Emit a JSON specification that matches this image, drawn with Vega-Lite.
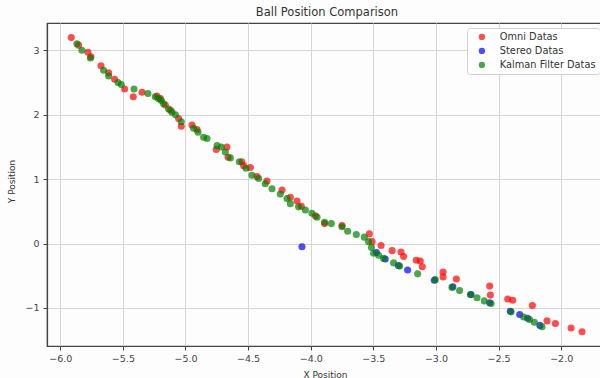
{
  "$schema": "https://vega.github.io/schema/vega-lite/v6.json",
  "width": 560,
  "height": 323,
  "autosize": "none",
  "padding": {"left": 47, "top": 23, "right": 0, "bottom": 32},
  "background": "#fdfdfd",
  "title": {"text": "Ball Position Comparison", "fontSize": 11.5, "fontWeight": "normal", "font": "DejaVu Sans", "color": "#333", "offset": 5},
  "config": {
    "view": {"stroke": "#444", "strokeWidth": 1.2},
    "axis": {"labelFont": "DejaVu Sans", "titleFont": "DejaVu Sans", "labelFontSize": 9.5, "titleFontSize": 9, "titleFontWeight": "normal", "labelColor": "#444", "titleColor": "#333", "gridColor": "#d6d6d6", "gridWidth": 1, "domainColor": "#444", "domainWidth": 1.2, "tickColor": "#444", "tickSize": 4},
    "legend": {"labelFont": "DejaVu Sans", "labelFontSize": 9.8, "labelColor": "#333"}
  },
  "data": {"values": [
    {"series": "Omni Datas", "x": -5.912, "y": 3.20},
    {"series": "Omni Datas", "x": -5.854, "y": 3.08},
    {"series": "Omni Datas", "x": -5.779, "y": 2.97},
    {"series": "Omni Datas", "x": -5.755, "y": 2.90},
    {"series": "Omni Datas", "x": -5.675, "y": 2.76},
    {"series": "Omni Datas", "x": -5.614, "y": 2.65},
    {"series": "Omni Datas", "x": -5.566, "y": 2.55},
    {"series": "Omni Datas", "x": -5.486, "y": 2.40},
    {"series": "Omni Datas", "x": -5.417, "y": 2.28},
    {"series": "Omni Datas", "x": -5.347, "y": 2.35},
    {"series": "Omni Datas", "x": -5.228, "y": 2.29},
    {"series": "Omni Datas", "x": -5.200, "y": 2.25},
    {"series": "Omni Datas", "x": -5.161, "y": 2.15},
    {"series": "Omni Datas", "x": -5.120, "y": 2.07},
    {"series": "Omni Datas", "x": -5.055, "y": 1.94},
    {"series": "Omni Datas", "x": -5.034, "y": 1.82},
    {"series": "Omni Datas", "x": -4.948, "y": 1.84},
    {"series": "Omni Datas", "x": -4.908, "y": 1.77},
    {"series": "Omni Datas", "x": -4.754, "y": 1.46},
    {"series": "Omni Datas", "x": -4.669, "y": 1.50},
    {"series": "Omni Datas", "x": -4.660, "y": 1.34},
    {"series": "Omni Datas", "x": -4.550, "y": 1.27},
    {"series": "Omni Datas", "x": -4.536, "y": 1.21},
    {"series": "Omni Datas", "x": -4.482, "y": 1.18},
    {"series": "Omni Datas", "x": -4.429, "y": 1.04},
    {"series": "Omni Datas", "x": -4.349, "y": 0.97},
    {"series": "Omni Datas", "x": -4.229, "y": 0.83},
    {"series": "Omni Datas", "x": -4.163, "y": 0.72},
    {"series": "Omni Datas", "x": -4.109, "y": 0.66},
    {"series": "Omni Datas", "x": -4.075, "y": 0.58},
    {"series": "Omni Datas", "x": -3.963, "y": 0.43},
    {"series": "Omni Datas", "x": -3.889, "y": 0.31},
    {"series": "Omni Datas", "x": -3.750, "y": 0.28},
    {"series": "Omni Datas", "x": -3.532, "y": 0.15},
    {"series": "Omni Datas", "x": -3.510, "y": 0.03},
    {"series": "Omni Datas", "x": -3.438, "y": -0.03},
    {"series": "Omni Datas", "x": -3.350, "y": -0.11},
    {"series": "Omni Datas", "x": -3.279, "y": -0.13},
    {"series": "Omni Datas", "x": -3.258, "y": -0.20},
    {"series": "Omni Datas", "x": -3.157, "y": -0.26},
    {"series": "Omni Datas", "x": -3.125, "y": -0.27},
    {"series": "Omni Datas", "x": -3.109, "y": -0.36},
    {"series": "Omni Datas", "x": -2.943, "y": -0.44},
    {"series": "Omni Datas", "x": -2.943, "y": -0.52},
    {"series": "Omni Datas", "x": -2.837, "y": -0.55},
    {"series": "Omni Datas", "x": -2.571, "y": -0.66},
    {"series": "Omni Datas", "x": -2.565, "y": -0.80},
    {"series": "Omni Datas", "x": -2.427, "y": -0.86},
    {"series": "Omni Datas", "x": -2.387, "y": -0.88},
    {"series": "Omni Datas", "x": -2.230, "y": -0.96},
    {"series": "Omni Datas", "x": -2.113, "y": -1.20},
    {"series": "Omni Datas", "x": -2.046, "y": -1.24},
    {"series": "Omni Datas", "x": -1.921, "y": -1.31},
    {"series": "Omni Datas", "x": -1.833, "y": -1.37},
    {"series": "Stereo Datas", "x": -4.070, "y": -0.05},
    {"series": "Stereo Datas", "x": -3.475, "y": -0.14},
    {"series": "Stereo Datas", "x": -3.405, "y": -0.24},
    {"series": "Stereo Datas", "x": -3.300, "y": -0.34},
    {"series": "Stereo Datas", "x": -3.226, "y": -0.41},
    {"series": "Stereo Datas", "x": -3.013, "y": -0.57},
    {"series": "Stereo Datas", "x": -2.865, "y": -0.67},
    {"series": "Stereo Datas", "x": -2.720, "y": -0.79},
    {"series": "Stereo Datas", "x": -2.571, "y": -0.92},
    {"series": "Stereo Datas", "x": -2.406, "y": -1.05},
    {"series": "Stereo Datas", "x": -2.331, "y": -1.10},
    {"series": "Stereo Datas", "x": -2.268, "y": -1.16},
    {"series": "Stereo Datas", "x": -2.170, "y": -1.27},
    {"series": "Kalman Filter Datas", "x": -5.867, "y": 3.10},
    {"series": "Kalman Filter Datas", "x": -5.827, "y": 3.00},
    {"series": "Kalman Filter Datas", "x": -5.760, "y": 2.88},
    {"series": "Kalman Filter Datas", "x": -5.654, "y": 2.69},
    {"series": "Kalman Filter Datas", "x": -5.614, "y": 2.60},
    {"series": "Kalman Filter Datas", "x": -5.539, "y": 2.50},
    {"series": "Kalman Filter Datas", "x": -5.513, "y": 2.47},
    {"series": "Kalman Filter Datas", "x": -5.411, "y": 2.40},
    {"series": "Kalman Filter Datas", "x": -5.300, "y": 2.33},
    {"series": "Kalman Filter Datas", "x": -5.241, "y": 2.28},
    {"series": "Kalman Filter Datas", "x": -5.215, "y": 2.25},
    {"series": "Kalman Filter Datas", "x": -5.193, "y": 2.22},
    {"series": "Kalman Filter Datas", "x": -5.175, "y": 2.17},
    {"series": "Kalman Filter Datas", "x": -5.135, "y": 2.09},
    {"series": "Kalman Filter Datas", "x": -5.108, "y": 2.04},
    {"series": "Kalman Filter Datas", "x": -5.080, "y": 2.00},
    {"series": "Kalman Filter Datas", "x": -5.034, "y": 1.89},
    {"series": "Kalman Filter Datas", "x": -4.935, "y": 1.79},
    {"series": "Kalman Filter Datas", "x": -4.900, "y": 1.73},
    {"series": "Kalman Filter Datas", "x": -4.855, "y": 1.65},
    {"series": "Kalman Filter Datas", "x": -4.828, "y": 1.63},
    {"series": "Kalman Filter Datas", "x": -4.748, "y": 1.52},
    {"series": "Kalman Filter Datas", "x": -4.714, "y": 1.50},
    {"series": "Kalman Filter Datas", "x": -4.682, "y": 1.42},
    {"series": "Kalman Filter Datas", "x": -4.642, "y": 1.33},
    {"series": "Kalman Filter Datas", "x": -4.570, "y": 1.27},
    {"series": "Kalman Filter Datas", "x": -4.517, "y": 1.17},
    {"series": "Kalman Filter Datas", "x": -4.469, "y": 1.06},
    {"series": "Kalman Filter Datas", "x": -4.416, "y": 1.01},
    {"series": "Kalman Filter Datas", "x": -4.363, "y": 0.93},
    {"series": "Kalman Filter Datas", "x": -4.309, "y": 0.85},
    {"series": "Kalman Filter Datas", "x": -4.243, "y": 0.77},
    {"series": "Kalman Filter Datas", "x": -4.189, "y": 0.70},
    {"series": "Kalman Filter Datas", "x": -4.163, "y": 0.62},
    {"series": "Kalman Filter Datas", "x": -4.097, "y": 0.57},
    {"series": "Kalman Filter Datas", "x": -4.043, "y": 0.52},
    {"series": "Kalman Filter Datas", "x": -3.990, "y": 0.47},
    {"series": "Kalman Filter Datas", "x": -3.950, "y": 0.41},
    {"series": "Kalman Filter Datas", "x": -3.889, "y": 0.33},
    {"series": "Kalman Filter Datas", "x": -3.835, "y": 0.31},
    {"series": "Kalman Filter Datas", "x": -3.750, "y": 0.26},
    {"series": "Kalman Filter Datas", "x": -3.705, "y": 0.19},
    {"series": "Kalman Filter Datas", "x": -3.636, "y": 0.14},
    {"series": "Kalman Filter Datas", "x": -3.572, "y": 0.10},
    {"series": "Kalman Filter Datas", "x": -3.538, "y": 0.03},
    {"series": "Kalman Filter Datas", "x": -3.515, "y": -0.06},
    {"series": "Kalman Filter Datas", "x": -3.498, "y": -0.15},
    {"series": "Kalman Filter Datas", "x": -3.458, "y": -0.18},
    {"series": "Kalman Filter Datas", "x": -3.418, "y": -0.23},
    {"series": "Kalman Filter Datas", "x": -3.338, "y": -0.30},
    {"series": "Kalman Filter Datas", "x": -3.290, "y": -0.35},
    {"series": "Kalman Filter Datas", "x": -3.146, "y": -0.47},
    {"series": "Kalman Filter Datas", "x": -3.005, "y": -0.56},
    {"series": "Kalman Filter Datas", "x": -2.872, "y": -0.68},
    {"series": "Kalman Filter Datas", "x": -2.811, "y": -0.73},
    {"series": "Kalman Filter Datas", "x": -2.725, "y": -0.79},
    {"series": "Kalman Filter Datas", "x": -2.672, "y": -0.84},
    {"series": "Kalman Filter Datas", "x": -2.614, "y": -0.89},
    {"series": "Kalman Filter Datas", "x": -2.560, "y": -0.93},
    {"series": "Kalman Filter Datas", "x": -2.400, "y": -1.06},
    {"series": "Kalman Filter Datas", "x": -2.300, "y": -1.14},
    {"series": "Kalman Filter Datas", "x": -2.252, "y": -1.18},
    {"series": "Kalman Filter Datas", "x": -2.214, "y": -1.22},
    {"series": "Kalman Filter Datas", "x": -2.153, "y": -1.29}
  ]},
  "mark": {"type": "circle", "size": 50, "opacity": 0.7},
  "encoding": {
    "x": {"field": "x", "type": "quantitative", "scale": {"domain": [-6.106, -1.634], "nice": false, "zero": false},
      "axis": {"title": "X Position", "values": [-6, -5.5, -5, -4.5, -4, -3.5, -3, -2.5, -2], "format": ".1f", "titleX": 278, "titleY": 28, "titleBaseline": "middle", "labelPadding": 3}},
    "y": {"field": "y", "type": "quantitative", "scale": {"domain": [-1.59, 3.424], "nice": false, "zero": false},
      "axis": {"title": "Y Position", "values": [-1, 0, 1, 2, 3], "format": "d", "titleX": -36, "titleY": 158, "titleBaseline": "middle", "labelPadding": 4}},
    "color": {"field": "series", "type": "nominal", "sort": ["Omni Datas", "Stereo Datas", "Kalman Filter Datas"],
      "scale": {"domain": ["Omni Datas", "Stereo Datas", "Kalman Filter Datas"], "range": ["#ff0000", "#0000ff", "#008000"]},
      "legend": {"title": null, "orient": "none", "legendX": 420, "legendY": 5, "padding": 4, "strokeColor": "#d0d0d0", "fillColor": "#ffffff", "cornerRadius": 3, "symbolType": "circle", "symbolSize": 40, "symbolOpacity": 0.7, "symbolOffset": 6, "rowPadding": 3, "labelOffset": 13}}
  }
}
